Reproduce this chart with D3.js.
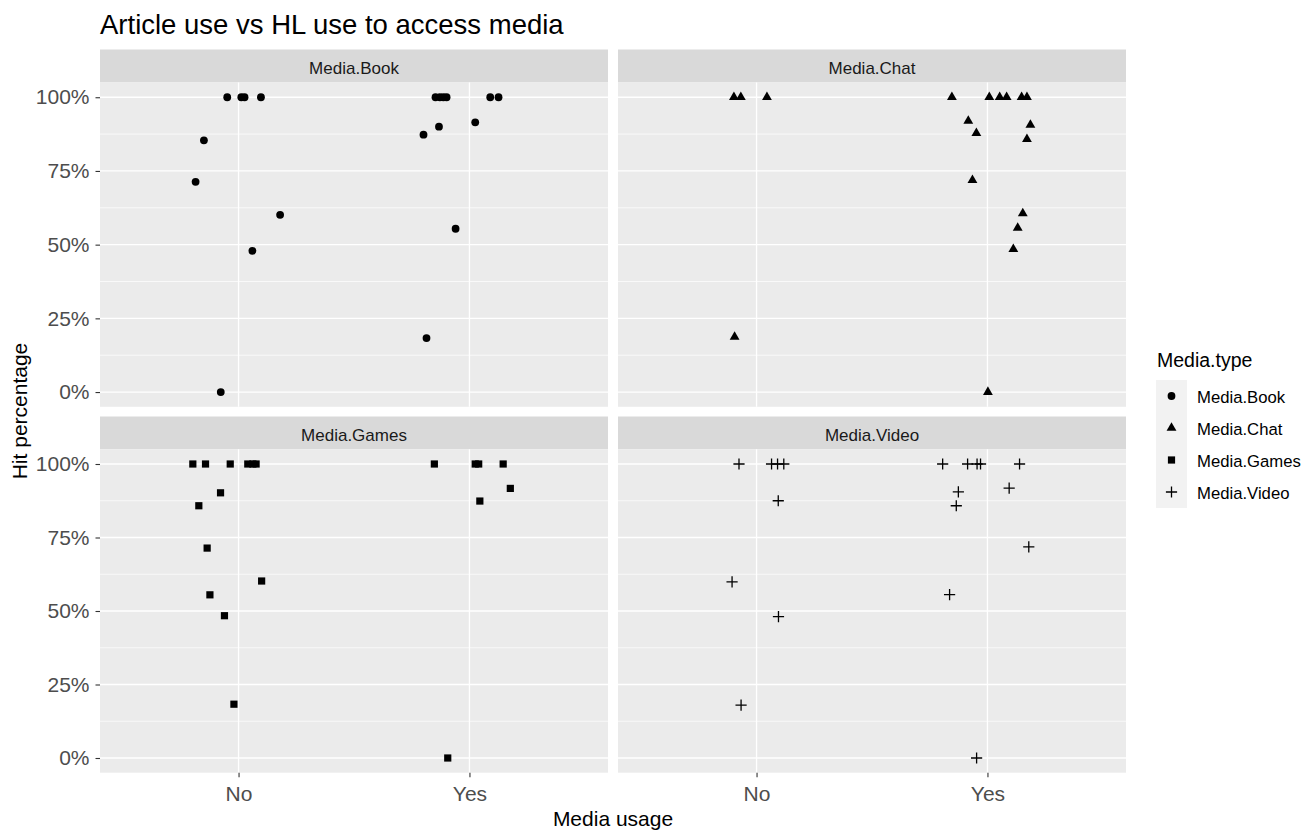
<!DOCTYPE html>
<html>
<head>
<meta charset="utf-8">
<script src="https://cdn.jsdelivr.net/npm/d3@7"></script>
<style>
  html, body { margin: 0; padding: 0; background: #ffffff; }
  svg { display: block; font-family: "Liberation Sans", Arial, sans-serif; }
</style>
</head>
<body>
<svg id="chart" width="1313" height="832"></svg>
<script>
// Facet order and category levels
const mediaTypes = ["Media.Book", "Media.Chat", "Media.Games", "Media.Video"];
const usageLevels = ["No", "Yes"];
const hitTicks = [0, 0.25, 0.5, 0.75, 1];

// Each point: [media usage, horizontal jitter (fraction of a category step), hit percentage]
const bookPoints = [
  ["No", -0.049, 1.0], ["No", 0.012, 1.0], ["No", 0.026, 1.0], ["No", 0.097, 1.0],
  ["No", -0.150, 0.854], ["No", -0.186, 0.713], ["No", 0.180, 0.601],
  ["No", 0.060, 0.479], ["No", -0.077, 0.0],
  ["Yes", -0.147, 1.0], ["Yes", -0.128, 1.0], ["Yes", -0.113, 1.0], ["Yes", -0.099, 1.0],
  ["Yes", 0.090, 1.0], ["Yes", 0.126, 1.0], ["Yes", 0.025, 0.915], ["Yes", -0.132, 0.900],
  ["Yes", -0.199, 0.873], ["Yes", -0.060, 0.554], ["Yes", -0.186, 0.183]
];
const chatPoints = [
  ["No", -0.098, 1.0], ["No", -0.068, 1.0], ["No", 0.045, 1.0], ["No", -0.095, 0.187],
  ["Yes", -0.154, 1.0], ["Yes", 0.008, 1.0], ["Yes", 0.053, 1.0], ["Yes", 0.083, 1.0],
  ["Yes", 0.148, 1.0], ["Yes", 0.171, 1.0], ["Yes", -0.083, 0.920], ["Yes", 0.186, 0.906],
  ["Yes", -0.048, 0.878], ["Yes", 0.171, 0.858], ["Yes", -0.065, 0.719], ["Yes", 0.153, 0.606],
  ["Yes", 0.131, 0.557], ["Yes", 0.112, 0.485], ["Yes", 0.002, 0.0]
];
const gamesPoints = [
  ["No", -0.198, 1.0], ["No", -0.143, 1.0], ["No", -0.036, 1.0], ["No", 0.040, 1.0],
  ["No", 0.062, 1.0], ["No", 0.076, 1.0], ["No", -0.078, 0.902], ["No", -0.172, 0.858],
  ["No", -0.136, 0.714], ["No", 0.100, 0.602], ["No", -0.124, 0.555], ["No", -0.061, 0.484],
  ["No", -0.020, 0.183],
  ["Yes", -0.152, 1.0], ["Yes", 0.025, 1.0], ["Yes", 0.040, 1.0], ["Yes", 0.146, 1.0],
  ["Yes", 0.177, 0.917], ["Yes", 0.045, 0.874], ["Yes", -0.094, 0.0]
];
const videoPoints = [
  ["No", -0.076, 1.0], ["No", 0.065, 1.0], ["No", 0.091, 1.0], ["No", 0.118, 1.0],
  ["No", 0.094, 0.875], ["No", -0.106, 0.599], ["No", 0.095, 0.481], ["No", -0.067, 0.180],
  ["Yes", -0.194, 1.0], ["Yes", -0.086, 1.0], ["Yes", -0.045, 1.0], ["Yes", -0.030, 1.0],
  ["Yes", 0.139, 1.0], ["Yes", 0.094, 0.918], ["Yes", -0.126, 0.905], ["Yes", -0.135, 0.858],
  ["Yes", 0.179, 0.718], ["Yes", -0.164, 0.556], ["Yes", -0.047, 0.0]
];
const pointsByType = [bookPoints, chatPoints, gamesPoints, videoPoints];

const svg = d3.select("#chart");

// Facet grid geometry
const colX = [[100, 608], [618, 1126]];
const rowY = [{ strip: 49.5, top: 82.5, bottom: 406.8 }, { strip: 416.5, top: 449.3, bottom: 772.7 }];

const panelBg = "#EBEBEB", stripBg = "#D9D9D9";
const axisTextColor = "#4D4D4D", tickColor = "#333333";

// Marker shapes per media type
function drawMarker(g, typeIndex, cx, cy) {
  if (typeIndex === 0) {
    g.append("circle").attr("cx", cx).attr("cy", cy).attr("r", 3.9).attr("fill", "#000");
  } else if (typeIndex === 1) {
    g.append("path").attr("d", d3.symbol(d3.symbolTriangle, 42)())
      .attr("transform", `translate(${cx},${cy})`).attr("fill", "#000");
  } else if (typeIndex === 2) {
    g.append("rect").attr("x", cx - 3.6).attr("y", cy - 3.6).attr("width", 7.2).attr("height", 7.2).attr("fill", "#000");
  } else {
    const h = 5.6;
    g.append("path").attr("d", `M${cx - h},${cy}H${cx + h}M${cx},${cy - h}V${cy + h}`)
      .attr("stroke", "#000").attr("stroke-width", 1.3).attr("fill", "none");
  }
}

mediaTypes.forEach((type, i) => {
  const col = i % 2, row = Math.floor(i / 2);
  const [x0, x1] = colX[col];
  const r = rowY[row];

  const x = d3.scalePoint().domain(usageLevels).range([x0, x1]).padding(0.6);
  const y = d3.scaleLinear().domain([-0.05, 1.05]).range([r.bottom, r.top]);

  const g = svg.append("g");

  // strip
  g.append("rect").attr("x", x0).attr("y", r.strip).attr("width", x1 - x0).attr("height", r.top - r.strip).attr("fill", stripBg);
  g.append("text").attr("x", (x0 + x1) / 2).attr("y", r.strip + 24.5)
    .attr("text-anchor", "middle").attr("font-size", 17).attr("fill", "#1A1A1A").text(type);

  // panel background
  g.append("rect").attr("x", x0).attr("y", r.top).attr("width", x1 - x0).attr("height", r.bottom - r.top).attr("fill", panelBg);

  // minor grid lines
  const minor = d3.pairs(hitTicks).map(([a, b]) => (a + b) / 2);
  g.selectAll(".minor").data(minor).join("line")
    .attr("x1", x0).attr("x2", x1).attr("y1", d => y(d)).attr("y2", d => y(d))
    .attr("stroke", "#fff").attr("stroke-width", 0.7);
  // major grid lines
  g.selectAll(".majorY").data(hitTicks).join("line")
    .attr("x1", x0).attr("x2", x1).attr("y1", d => y(d)).attr("y2", d => y(d))
    .attr("stroke", "#fff").attr("stroke-width", 1.3);
  g.selectAll(".majorX").data(usageLevels).join("line")
    .attr("x1", d => x(d)).attr("x2", d => x(d)).attr("y1", r.top).attr("y2", r.bottom)
    .attr("stroke", "#fff").attr("stroke-width", 1.3);

  // points
  const marks = g.append("g");
  pointsByType[i].forEach(([usage, jitter, hit]) => {
    drawMarker(marks, i, x(usage) + jitter * x.step(), y(hit));
  });

  // y axis on the left column
  if (col === 0) {
    const ay = g.append("g").attr("transform", `translate(${x0},0)`)
      .call(d3.axisLeft(y).tickValues(hitTicks).tickFormat(d3.format(".0%")).tickSize(4.5).tickPadding(6));
    ay.select(".domain").remove();
    ay.selectAll(".tick line").attr("stroke", tickColor).attr("stroke-width", 1.1);
    ay.selectAll(".tick text").attr("font-size", 21).attr("fill", axisTextColor)
      .attr("font-family", "Liberation Sans, Arial, sans-serif");
  }
  // x axis on the bottom row
  if (row === 1) {
    const ax = g.append("g").attr("transform", `translate(0,${r.bottom})`)
      .call(d3.axisBottom(x).tickSize(4.5).tickPadding(9));
    ax.select(".domain").remove();
    ax.selectAll(".tick line").attr("stroke", tickColor).attr("stroke-width", 1.1);
    ax.selectAll(".tick text").attr("font-size", 21).attr("fill", axisTextColor)
      .attr("font-family", "Liberation Sans, Arial, sans-serif");
  }
});

// title and axis titles
svg.append("text").attr("x", 100).attr("y", 34).attr("font-size", 27.5).attr("fill", "#000")
  .text("Article use vs HL use to access media");
svg.append("text").attr("x", 613).attr("y", 826).attr("text-anchor", "middle").attr("font-size", 21).attr("fill", "#000")
  .text("Media usage");
svg.append("text").attr("transform", "translate(27,411) rotate(-90)").attr("text-anchor", "middle")
  .attr("font-size", 21).attr("fill", "#000").text("Hit percentage");

// legend
const legend = svg.append("g");
legend.append("text").attr("x", 1157).attr("y", 367).attr("font-size", 19.5).attr("fill", "#000").text("Media.type");
const keyTop = 380, keyH = 32, keyX = 1156, keyW = 31;
legend.append("rect").attr("x", keyX).attr("y", keyTop).attr("width", keyW).attr("height", keyH * mediaTypes.length).attr("fill", "#F2F2F2");
mediaTypes.forEach((type, i) => {
  const cy = keyTop + keyH * i + keyH / 2;
  drawMarker(legend, i, keyX + keyW / 2, cy);
  legend.append("text").attr("x", 1197).attr("y", cy + 6.5).attr("font-size", 16.7).attr("fill", "#000").text(type);
});
</script>
</body>
</html>
